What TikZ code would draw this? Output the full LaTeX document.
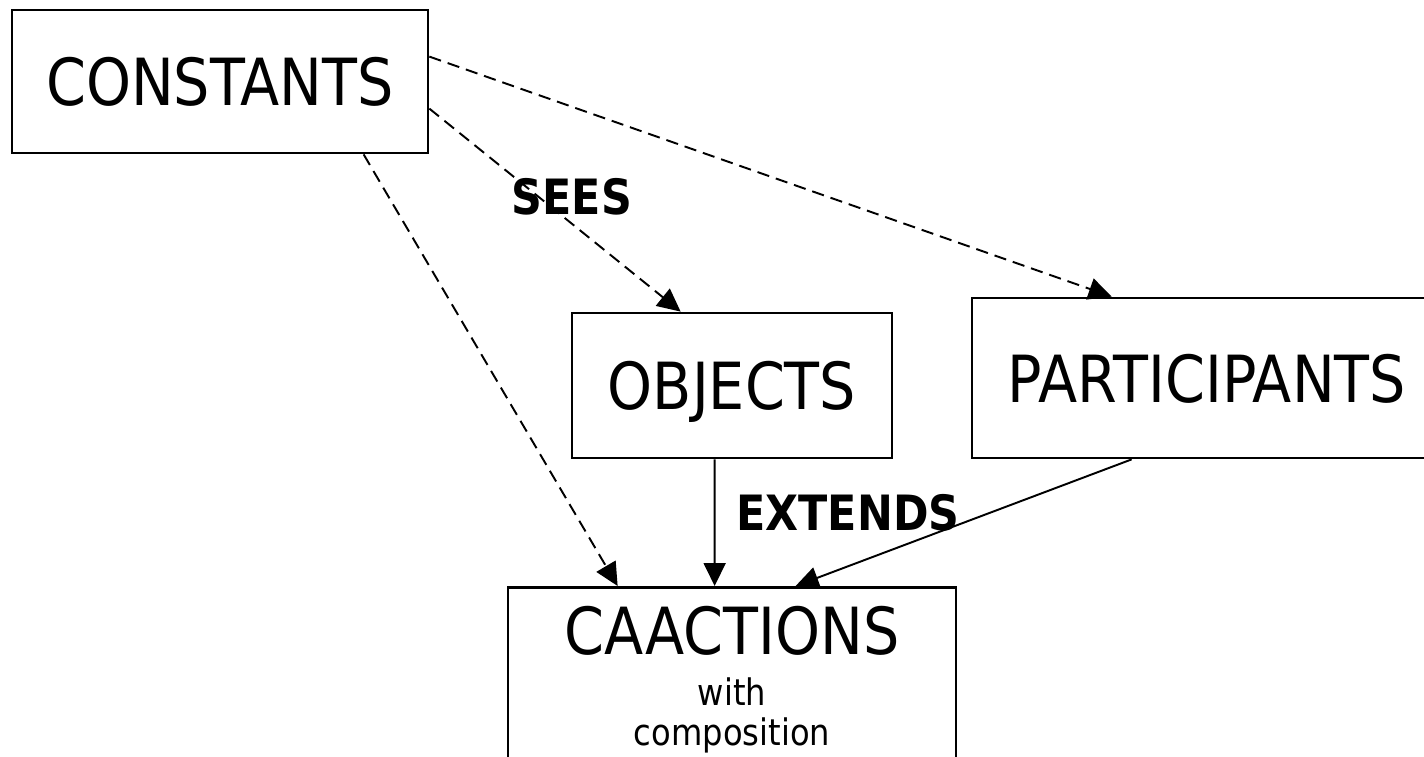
\documentclass[tikz,border=0pt]{standalone}
\usepackage{fontspec}
\setmainfont{DejaVu Sans}[FakeStretch=0.88]
\usepackage{tikz}
\usetikzlibrary{arrows.meta, calc}
\newcommand{\boxfont}{\fontsize{37}{44}\selectfont}
\newcommand{\notefont}{\fontsize{20.8}{24}\selectfont}
\newcommand{\relfont}{\fontsize{27.7}{32}\selectfont\bfseries}
\tikzset{
  box/.style={rectangle, draw=black, line width=1.6pt, inner sep=0pt,
    align=center, font=\boxfont, text depth=0pt},
  arrow/.style={-{Triangle[length=0.46cm, width=0.44cm]}, line width=1.1pt},
  dasharrow/.style={arrow, dash pattern=on 7pt off 4pt},
  rel/.style={font=\relfont, inner sep=0pt}
}

\begin{document}
\begin{tikzpicture}[x=0.02cm, y=-0.02cm]
  \useasboundingbox (0,0) rectangle (1424,757);

  % machines
  \node[box, minimum width=8.32cm, minimum height=2.86cm] (consts) at (220,81.5) {CONSTANTS};
  \node[box, minimum width=6.4cm, minimum height=2.9cm] (objects) at (732,385.5) {OBJECTS};
  \node[box, minimum width=9.4cm, minimum height=3.2cm] (parts) at (1207,378) {PARTICIPANTS};
  \node[box, anchor=north, minimum width=8.96cm, inner ysep=0.38cm] (actions) at (732,586)
    {CAACTIONS\\[-15.1pt]{\notefont with}\\[-21.3pt]{\notefont composition}};

  % sees / extends links
  \draw[dasharrow] ($(consts.north east)+(0,48)$) -- ($(parts.north west)+(141,0)$);
  \draw[dasharrow] ($(consts.north east)+(0,100)$) -- ($(objects.north west)+(110,0)$);
  \draw[dasharrow] ($(consts.south west)+(353,0)$) -- ($(actions.north west)+(111,0)$);
  \draw[arrow] ($(objects.south west)+(144,0)$) -- ($(actions.north west)+(208,0)$);
  \draw[arrow] ($(parts.south west)+(161,0)$) -- ($(actions.north west)+(289,0)$);

  \node[rel] (sees) at (572,197) {SEES};
  \node[rel] (extends) at (848,513) {EXTENDS};
\end{tikzpicture}
\end{document}
